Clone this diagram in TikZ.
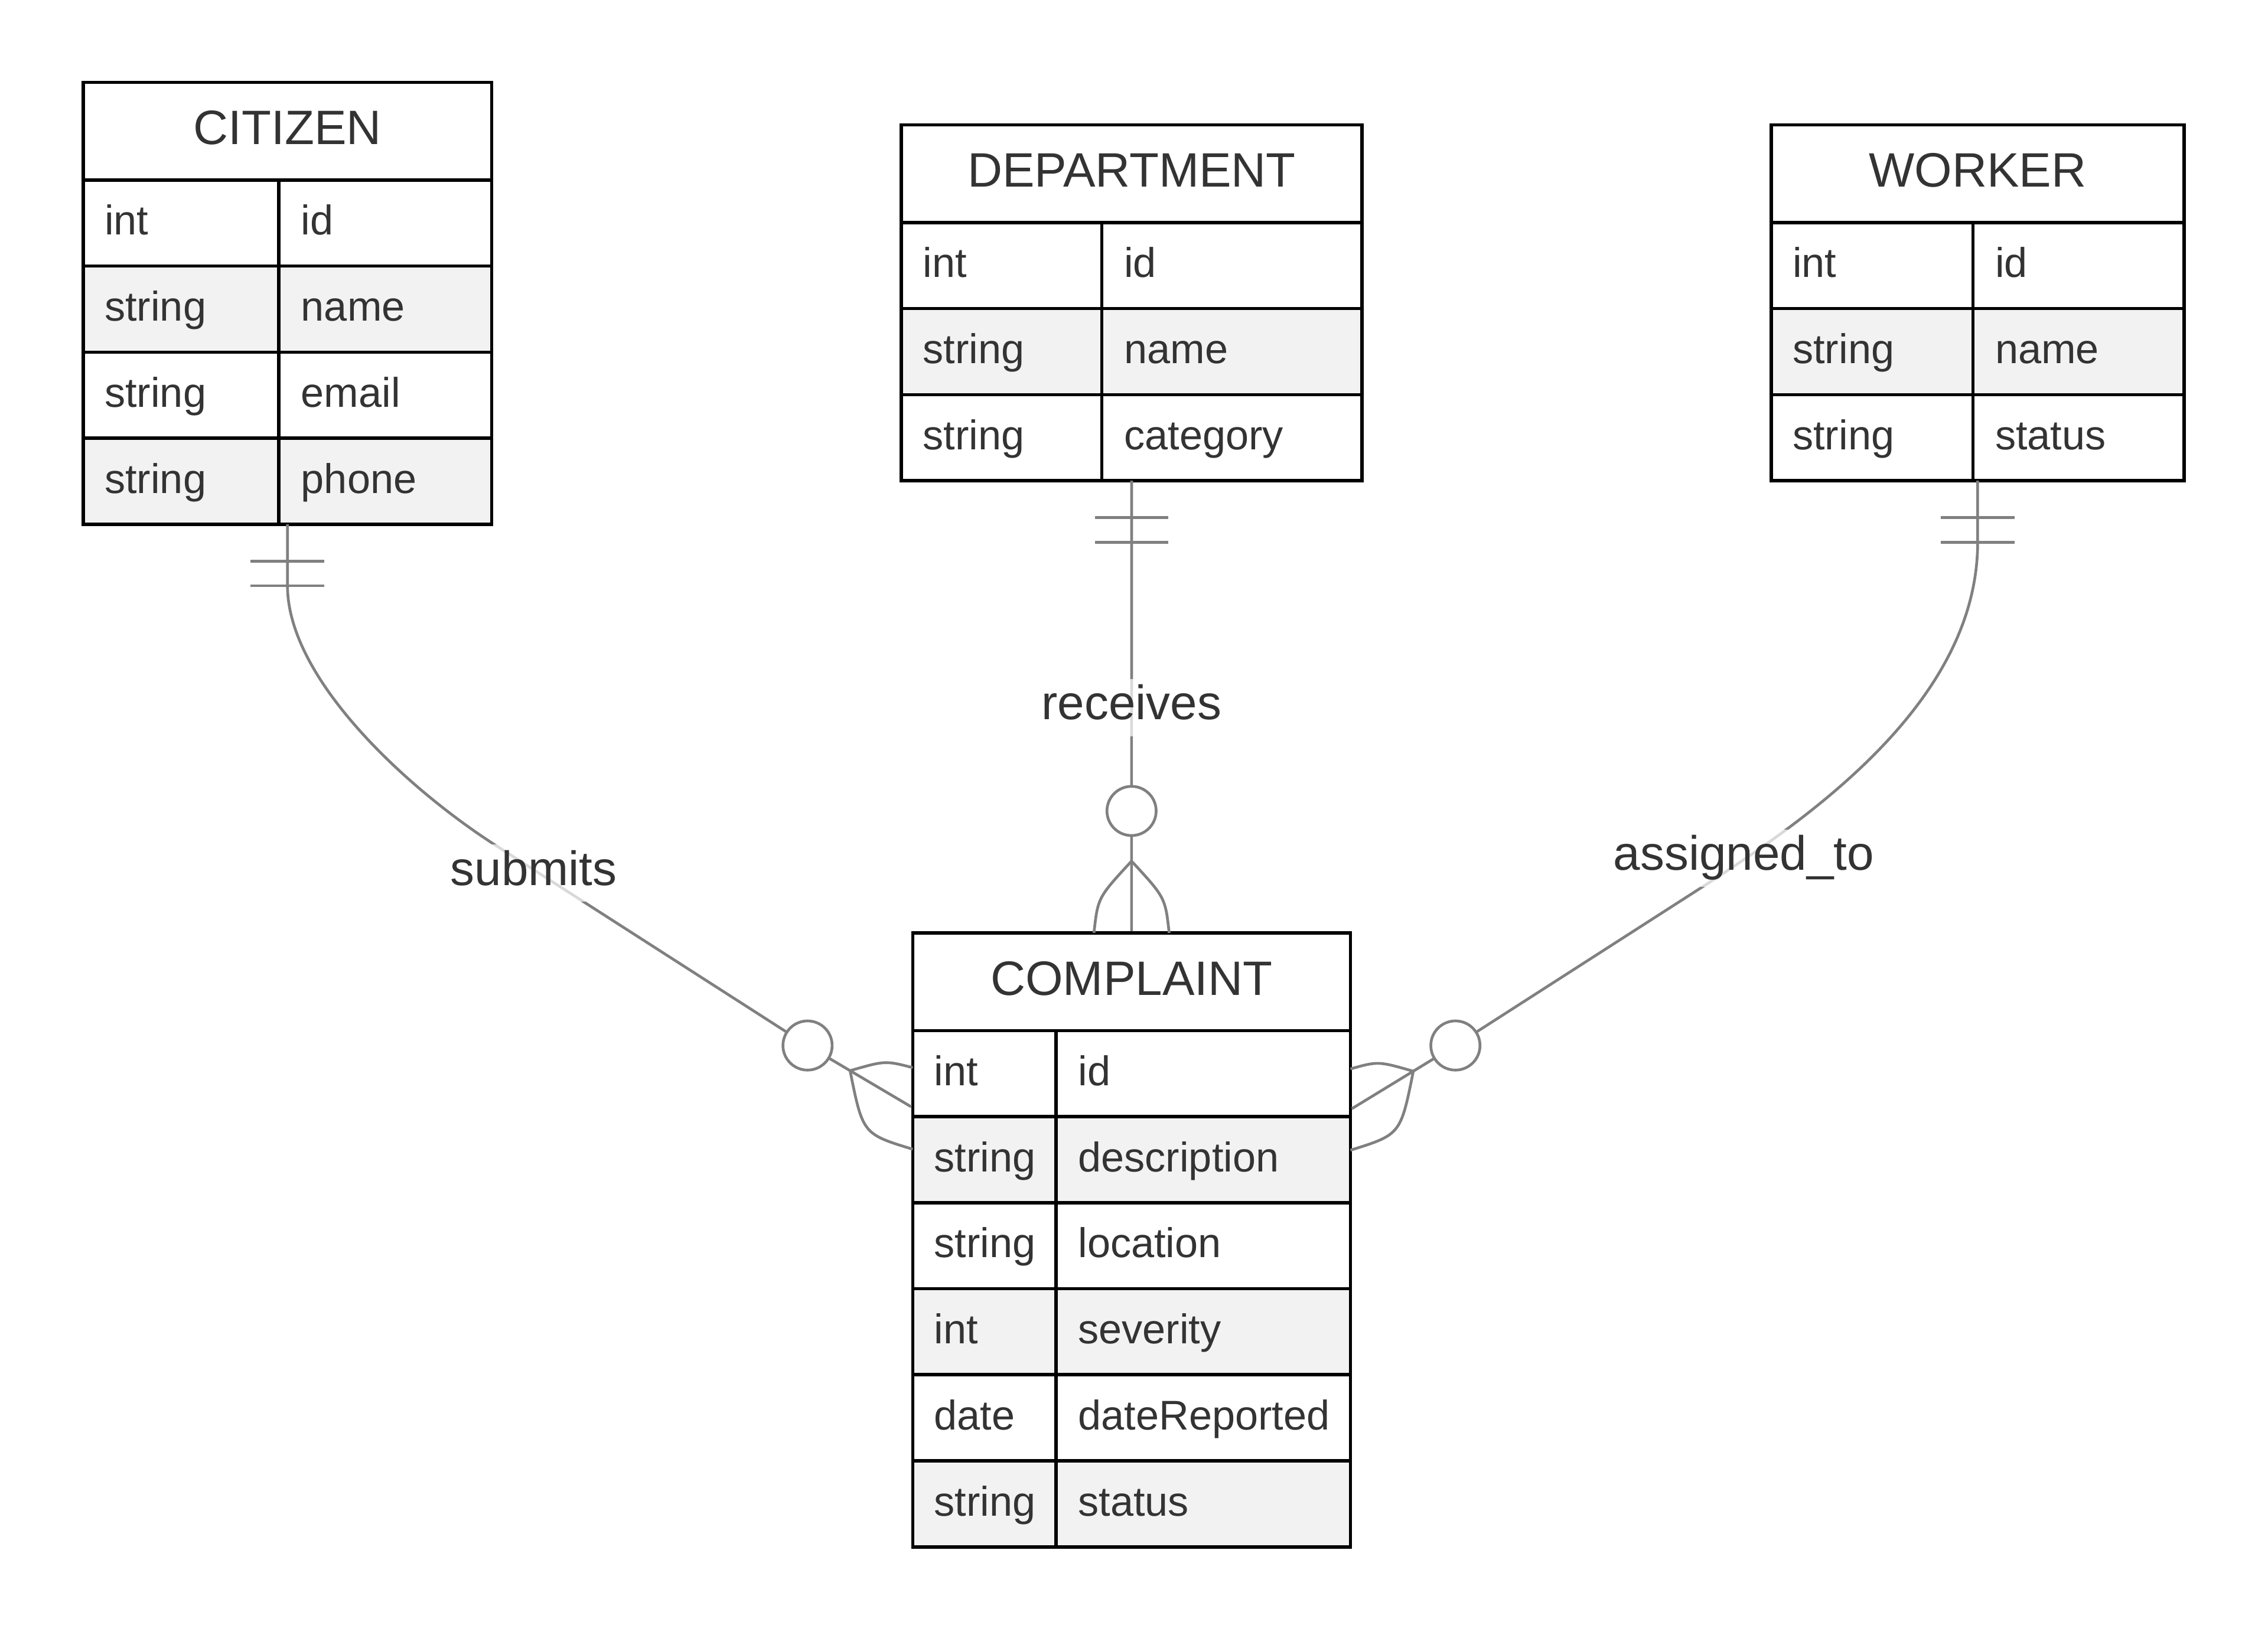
\documentclass[tikz,border=0pt]{standalone}
\usepackage{fontspec}
\setmainfont{Liberation Sans}
\usetikzlibrary{calc}
\definecolor{txt}{HTML}{333333}
\definecolor{rowgray}{HTML}{F2F2F2}
\definecolor{conngray}{HTML}{808080}
\tikzset{
  entline/.style={draw=black, line width=1.15pt},
  entbox/.style={draw=black, line width=1.15pt, inner sep=0pt, outer sep=0pt, anchor=north west, rectangle},
  attr/.style={anchor=base west, inner sep=0pt, text=txt, font=\fontsize{14.35pt}{17pt}\selectfont},
  ttl/.style={anchor=base, inner sep=0pt, text=txt, font=\fontsize{16.7pt}{20pt}\selectfont},
  conn/.style={draw=conngray, line width=0.95pt},
  zcirc/.style={circle, draw=conngray, fill=white, line width=0.95pt, minimum size=17pt, inner sep=0pt},
  lbl/.style={anchor=base, inner xsep=0pt, inner ysep=0pt, text=txt, fill=white, fill opacity=0.7, text opacity=1,
    text height=14.05pt, text depth=5.75pt, font=\fontsize{16.7pt}{20pt}\selectfont}
}
% #1 name, #2 left, #3 top, #4 width, #5 left column width, #6 number of rows, #7 title, #8 rows
\newcommand{\erentity}[8]{%
  \begin{scope}[shift={(#2,#3)}]
    \pgfmathsetmacro{\entH}{67.5+59.5*#6}
    \fill[white] (0,0) rectangle (#4,\entH);
    \foreach \ty/\nm [count=\i] in {#8}{
      \pgfmathsetmacro{\rt}{67.5+59.5*(\i-1)}
      \ifodd\i\else \fill[rowgray] (0,\rt) rectangle (#4,\rt+59.5);\fi
      \draw[entline] (0,\rt) -- (#4,\rt);
      \node[attr] (#1-t\i) at (14.5,\rt+38) {\ty};
      \node[attr] (#1-n\i) at (#5+15,\rt+38) {\nm};
    }
    \draw[entline] (#5,67.5) -- (#5,\entH);
    \node[entbox, minimum width=#4*0.5pt, minimum height=\entH*0.5pt] (#1) at (0,0) {};
    \node[ttl] (#1-title) at (#4/2,42.9) {#7};
  \end{scope}}
\begin{document}
\begin{tikzpicture}[x={(0.5pt,0)}, y={(0,-0.5pt)}]
\fill[white] (0,0) rectangle (1568,1130.3);
\useasboundingbox (0,0) rectangle (1568,1130.3);

\erentity{citizen}{57.5}{57}{282.5}{135.3}{4}{CITIZEN}{int/id,string/name,string/email,string/phone}
\erentity{department}{623.1}{86.4}{318.5}{138.7}{3}{DEPARTMENT}{int/id,string/name,string/category}
\erentity{worker}{1224.5}{86.4}{285.5}{139.5}{3}{WORKER}{int/id,string/name,string/status}
\erentity{complaint}{631}{645.2}{302.6}{99}{6}{COMPLAINT}{int/id,string/description,string/location,int/severity,date/dateReported,string/status}

% one-and-only-one bars
\foreach \e in {citizen,department,worker}{
  \draw[conn] ($(\e.south)+(-25.5,25.5)$) -- ++(51,0);
  \draw[conn] ($(\e.south)+(-25.5,42.6)$) -- ++(51,0);
}

% CITIZEN -- COMPLAINT
\coordinate (cL) at ($(complaint.north west)+(0,120.8)$);
\coordinate (oLc) at (558.3,723);
\coordinate (aL) at (587.7,740.4);
\draw[conn, shorten >=0.6pt] (citizen.south) -- ++(0,42.5) .. controls +(0,65) and (282.7,546.1) .. (342.7,584.6) -- (oLc) -- (cL);
\draw[conn] (aL) .. controls (612,733.4) .. ($(complaint.north west)+(0,93.1)$);
\draw[conn] (aL) .. controls (596.5,784.2) .. ($(complaint.north west)+(0,149.5)$);
\node[zcirc] (oL) at (oLc) {};

% DEPARTMENT -- COMPLAINT
\coordinate (aM) at ($(complaint.north)+(0,-49.7)$);
\draw[conn, shorten >=0.6pt] (department.south) -- (complaint.north);
\draw[conn] (aM) .. controls ($(complaint.north)+(-23.3,-24.5)$) .. ($(complaint.north)+(-26,0)$);
\draw[conn] (aM) .. controls ($(complaint.north)+(23.3,-24.5)$) .. ($(complaint.north)+(26,0)$);
\node[zcirc] (oM) at ($(complaint.north)+(0,-84.4)$) {};

% WORKER -- COMPLAINT
\coordinate (cR) at ($(complaint.north east)+(0,122.1)$);
\coordinate (oRc) at (1006.2,723);
\coordinate (aR) at (977.1,740.8);
\draw[conn, shorten >=0.6pt] (worker.south) -- ++(0,42.6) .. controls +(0,107) and (1258.1,561.2) .. (1178.1,612.6) -- (oRc) -- (cR);
\draw[conn] (aR) .. controls (952.8,733.8) .. ($(complaint.north east)+(0,94)$);
\draw[conn] (aR) .. controls (968.3,784.6) .. ($(complaint.north east)+(0,150.2)$);
\node[zcirc] (oR) at (oRc) {};

% relationship labels
\node[lbl] (lsubmits) at (369,612.1) {submits};
\node[lbl] (lreceives) at (782.3,497.6) {receives};
\node[lbl] (lassigned) at (1205.6,601.7) {assigned\_to};
\end{tikzpicture}
\end{document}
